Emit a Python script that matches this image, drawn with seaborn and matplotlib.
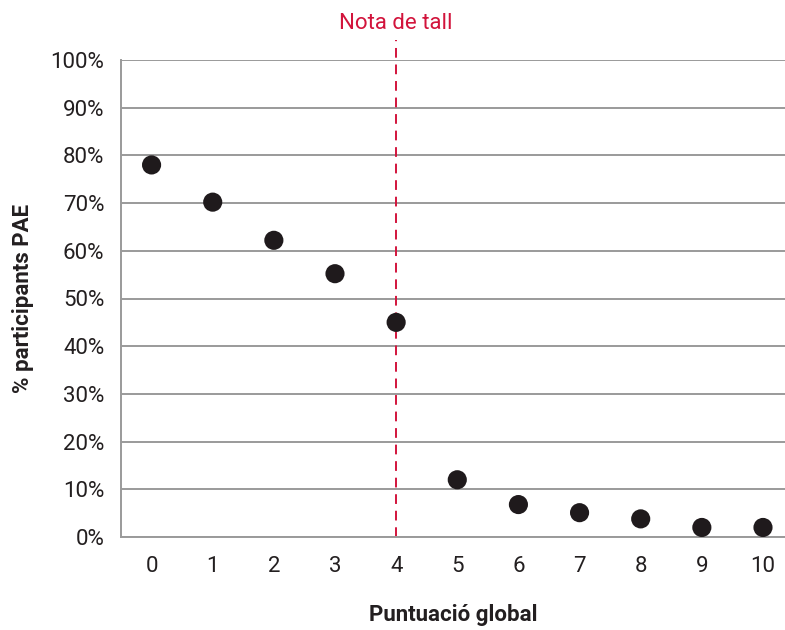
import matplotlib
matplotlib.use("Agg")
import matplotlib.pyplot as plt
import seaborn as sns
import pandas as pd

# punts llegits del grafic original
scores = [0, 1, 2, 3, 4, 5, 6, 7, 8, 9, 10]
pct_pae = [78, 70.2, 62.2, 55.2, 45, 12, 6.8, 5.1, 3.8, 2, 2]
cutoff = 4

df = pd.DataFrame({"score": scores, "pct": pct_pae})

sns.set_style("white")
plt.rcParams["font.family"] = ["Roboto", "DejaVu Sans"]

fig = plt.figure(figsize=(7.85, 6.3), dpi=100)
ax = fig.add_axes([121 / 785, 93 / 630, 1 - 121 / 785, 477 / 630])

sns.scatterplot(data=df, x="score", y="pct", ax=ax, color="#1f1a1c",
                s=190, edgecolor="none", zorder=3, clip_on=False)

ax.set_xlim(-0.49, 10.36)
ax.set_ylim(0, 100)

ax.set_yticks(range(0, 101, 10))
ax.set_yticklabels([f"{v}%" for v in range(0, 101, 10)])
ax.yaxis.grid(True, color="#9a9a9a", linewidth=1.4)
ax.set_axisbelow(True)

ax.set_xticks(scores)
ax.set_xticks([s - 0.5 for s in scores], minor=True)
ax.tick_params(axis="x", which="major", length=0, pad=14, labelsize=16, colors="#231f20")
ax.tick_params(axis="x", which="minor", length=7, width=1.4, color="#9a9a9a")
ax.tick_params(axis="y", length=6, width=1.4, color="#9a9a9a", labelsize=16,
               pad=6, colors="#231f20")
ax.tick_params(axis="y", colors="#9a9a9a", labelcolor="#231f20")

for side in ["top", "right"]:
    ax.spines[side].set_visible(False)
for side in ["left", "bottom"]:
    ax.spines[side].set_color("#9a9a9a")
    ax.spines[side].set_linewidth(1.4)

# linia de la nota de tall
ax.plot([cutoff, cutoff], [0, 104.2], color="#d2143c", linestyle=(0, (5, 3.5)),
        linewidth=1.4, clip_on=False, zorder=2)
ax.text(cutoff, 105.5, "Nota de tall", color="#d2143c", fontsize=16,
        ha="center", va="bottom")

ax.set_xlabel("Puntuació global", fontsize=16, fontweight="bold",
              color="#231f20", labelpad=19)
ax.set_ylabel("% participants PAE", fontsize=16, fontweight="bold",
              color="#231f20", labelpad=12)

fig.savefig("out.png", dpi=100)
